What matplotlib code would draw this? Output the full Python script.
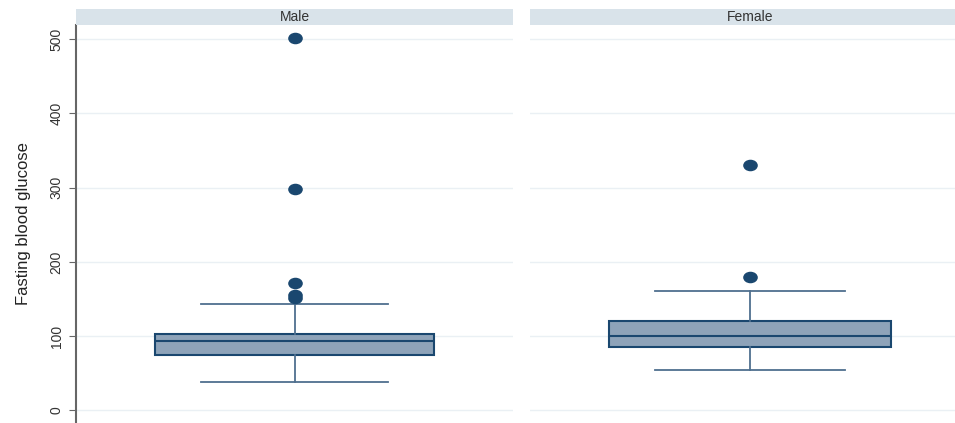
import matplotlib
matplotlib.use("Agg")
import matplotlib.pyplot as plt
from matplotlib.path import Path
from matplotlib.transforms import Affine2D

# five-number summaries of fasting blood glucose by sex
groups = ["Male", "Female"]
lower_whisker = [38, 54]
q1 = [75, 86]
median = [93, 100]
q3 = [103, 121]
upper_whisker = [143, 161]
outliers = [[151, 155, 171, 298, 501], [179, 330]]

navy = "#1a476f"
fill = "#8ea3b9"
whisk = "#4f6f8f"
grid = "#eaf0f4"
strip = "#d9e3ea"

plt.rcParams["font.family"] = ["Liberation Sans Narrow", "Liberation Sans", "DejaVu Sans"]

# slightly flattened dot for outliers
oval = Path.unit_circle().transformed(Affine2D().scale(1.3, 1.0))

W, H = 955, 423
fig = plt.figure(figsize=(W / 100, H / 100), dpi=100)

panels = [(76, 513), (530, 970)]
top_px = 25
strip_top_px = 9

for i, (x0, x1) in enumerate(panels):
    ax = fig.add_axes([x0 / W, 0, (x1 - x0) / W, (H - top_px) / H])
    stats = [{
        "whislo": lower_whisker[i], "q1": q1[i], "med": median[i],
        "q3": q3[i], "whishi": upper_whisker[i], "fliers": outliers[i],
    }]
    ax.bxp(stats, positions=[1], widths=0.64, capwidths=0.43, patch_artist=True,
           boxprops=dict(facecolor=fill, edgecolor=navy, linewidth=1.5),
           medianprops=dict(color=navy, linewidth=1.5),
           whiskerprops=dict(color=whisk, linewidth=1.3),
           capprops=dict(color=whisk, linewidth=1.3),
           flierprops=dict(marker=oval, markerfacecolor=navy, markeredgecolor=navy,
                           markersize=9.5))
    ax.set_xlim(0.5, 1.5)
    ax.set_ylim(-17, 519)
    ax.set_yticks(range(0, 501, 100))
    ax.grid(axis="y", color=grid, linewidth=1)
    ax.set_axisbelow(True)
    ax.set_xticks([])
    for s in ["top", "right", "bottom"]:
        ax.spines[s].set_visible(False)
    if i == 0:
        ax.spines["left"].set_color("#666666")
        ax.spines["left"].set_linewidth(1.5)
        ax.tick_params(axis="y", length=5, color="#666666", labelsize=10,
                       labelcolor="#333333", pad=4)
        for lab in ax.get_yticklabels():
            lab.set_rotation(90)
            lab.set_va("center")
        ax.set_ylabel("Fasting blood glucose", fontsize=12, color="#222222", labelpad=13)
    else:
        ax.spines["left"].set_visible(False)
        ax.tick_params(axis="y", length=0, labelleft=False)

    # panel header strip
    sx = fig.add_axes([x0 / W, (H - top_px) / H, (x1 - x0) / W, (top_px - strip_top_px) / H])
    sx.set_facecolor(strip)
    sx.set_xticks([])
    sx.set_yticks([])
    for s in sx.spines.values():
        s.set_visible(False)
    sx.text(0.5, 0.5, groups[i], ha="center", va="center", fontsize=10,
            color="#333333", transform=sx.transAxes,
            family=["Liberation Sans", "DejaVu Sans"])

fig.savefig("out.png", dpi=100)
